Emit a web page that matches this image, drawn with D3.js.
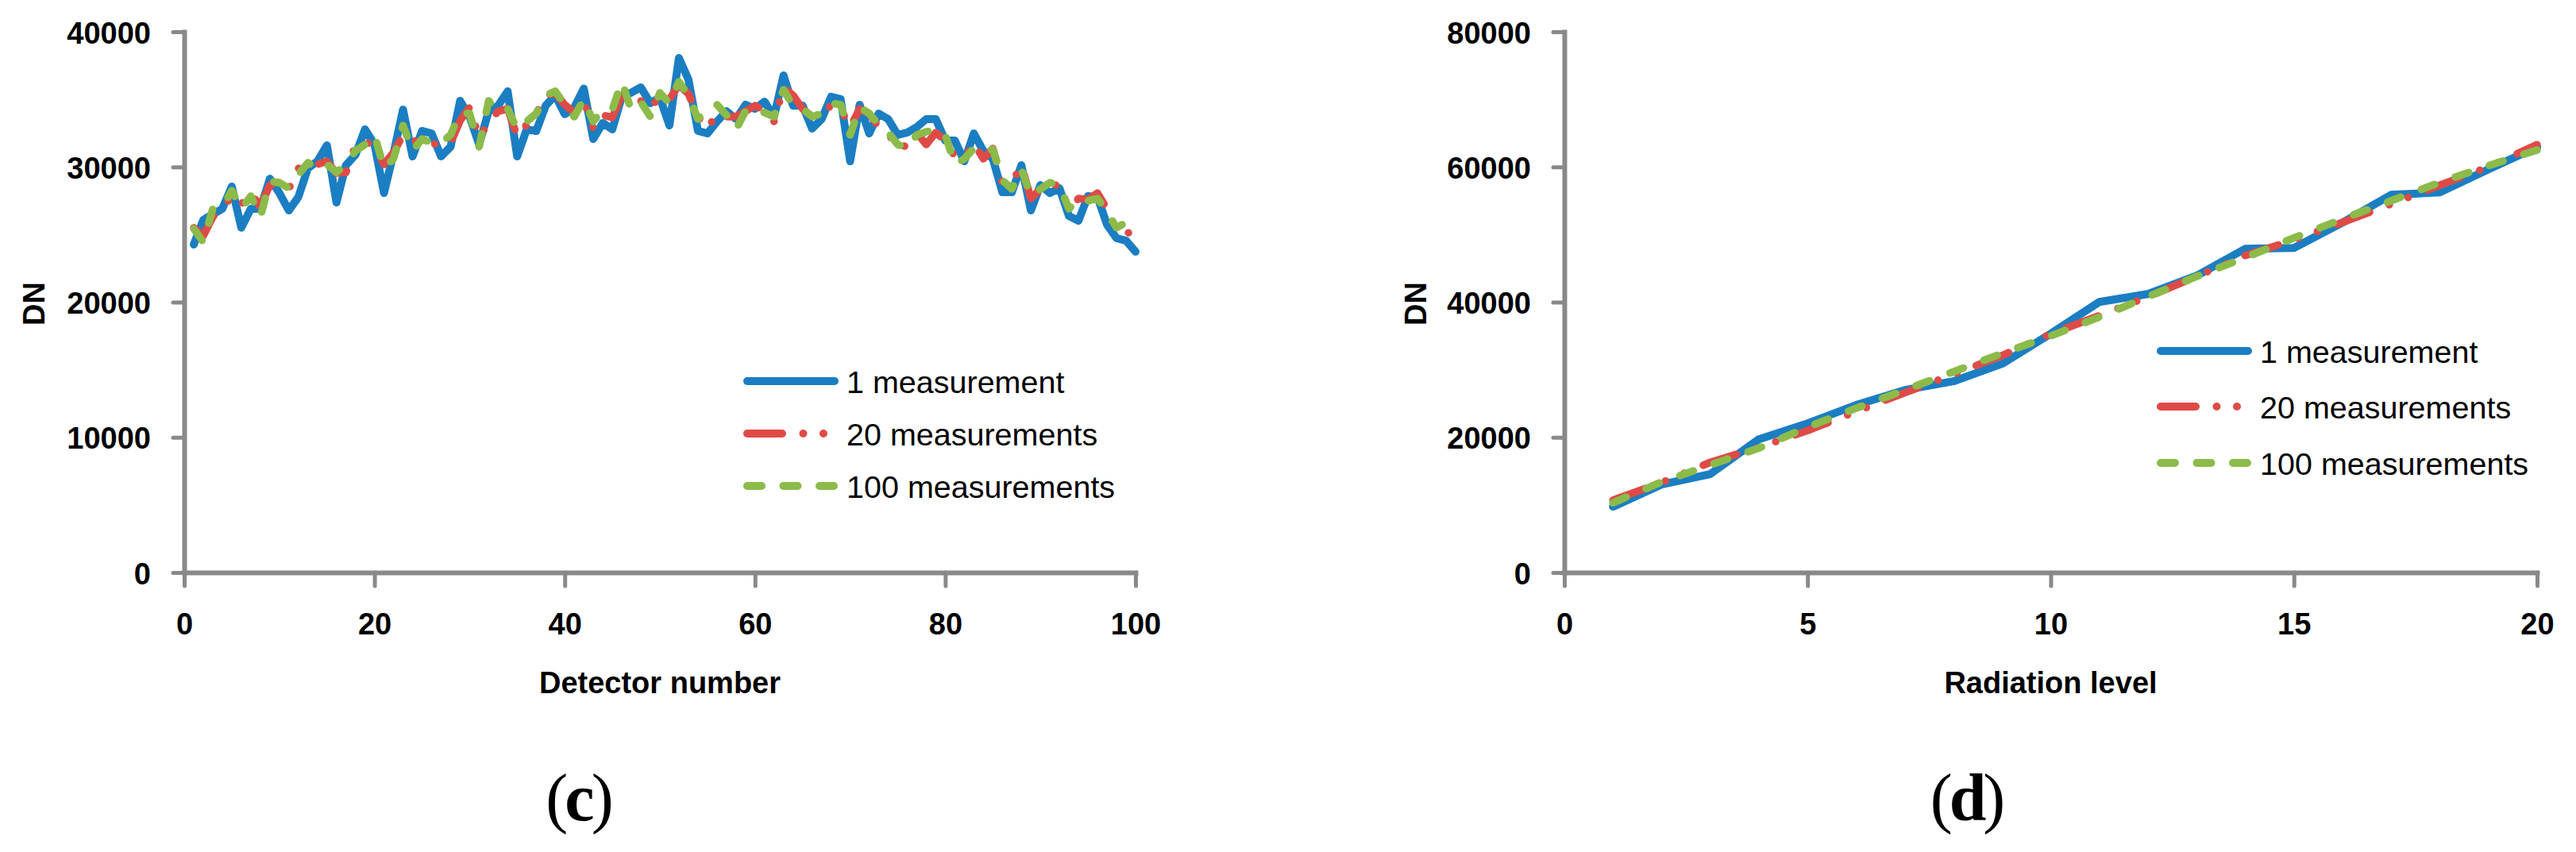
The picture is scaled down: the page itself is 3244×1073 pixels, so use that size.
<!DOCTYPE html>
<html>
<head>
<meta charset="utf-8">
<script src="https://cdn.jsdelivr.net/npm/d3@7"></script>
<style>
  html, body { margin: 0; padding: 0; background: #fff; }
  svg { display: block; }
  text { font-family: "Liberation Sans", Arial, sans-serif; fill: #000; }
</style>
</head>
<body>
<svg id="chart" width="3244" height="1073"></svg>
<script>
// ---------------- DATA ----------------
// Panel (c): DN per detector
const detectors = d3.range(1, 101);
const c_one = [24260,26080,26500,26900,28550,25500,26900,26900,29130,28070,
  26780,27780,29900,30420,31600,27370,30130,30900,32780,31660,
  28070,31010,34240,30780,32660,32480,30780,31490,34890,33720,
  31660,34120,34540,35600,30780,32780,32660,34540,35300,33900,
  34400,35800,32070,33250,32780,35200,35500,35890,34720,35130,
  33070,38060,36480,32660,32480,33360,34120,33540,34600,34300,
  34830,33720,36770,34540,34540,32840,33540,35190,35010,30420,
  34600,32480,33950,33540,32370,32540,32950,33540,33540,31960,
  31960,30420,32480,31190,30600,28130,28130,30130,26780,28660,
  28070,28430,26370,26020,27840,27780,25730,24730,24550,23730];
const c_twenty = [25500,24900,26300,26900,27840,27250,28070,27080,28660,28840,
  28370,29900,30010,30190,30420,29540,29600,31600,31900,31490,
  30190,31070,32370,31900,31960,31660,31780,31780,33420,34420,
  32190,33250,34120,34300,32250,33130,33950,35300,35480,34600,
  34010,34890,32840,33830,33660,35300,34540,34890,34300,35300,
  35010,36070,35420,33720,32840,33950,33720,33720,34120,34540,
  34120,33360,35890,35300,34300,33720,33950,34540,34300,32950,
  34300,33950,32950,32480,31370,31600,32540,31660,32540,31960,
  30780,30720,31780,30600,31370,28840,28840,30130,27660,28370,
  28840,28540,26900,27660,27600,28070,26900,25320,25140,25100];
const c_hundred = [25430,24440,26900,27000,28250,26900,27840,26300,28950,28840,
  28430,29430,30310,29840,30190,29600,30190,31190,31660,32370,
  29900,30600,33070,31190,32070,31780,31780,32370,34010,33950,
  31490,34890,34120,34300,32780,33360,33950,35300,35600,34600,
  33720,35010,33360,34240,34240,36300,34200,34800,33720,35480,
  34720,36300,35300,33540,34300,34600,33830,32780,34120,34420,
  34010,33720,35710,34540,34300,33720,33950,34720,34600,32370,
  34420,33950,33130,32540,31660,31370,32370,32600,32780,32370,
  30190,30600,31370,31070,31310,29020,28370,29840,27840,28370,
  28840,28660,26900,27660,27500,27660,26670,25500,25900,25020];

// Panel (d): DN per radiation level
const levels = d3.range(1, 21);
const d_one = [9740,13030,14560,19720,22070,24770,27000,28290,30880,35340,
  40030,41200,43900,47900,48020,51770,55880,56240,59640,62930];
const d_twenty = [10700,13300,16300,18500,21000,23800,26600,29300,32100,35300,
  38000,40800,43800,46900,49200,51800,54500,57300,60000,63300];
const d_hundred = [10300,13400,15900,18400,21500,24300,27000,29700,32400,35000,
  37800,40800,43800,46600,49500,52300,55000,57700,60200,62500];

const seriesNames = ["1 measurement", "20 measurements", "100 measurements"];
const c_xTicks = [0, 20, 40, 60, 80, 100];
const c_yTicks = [0, 10000, 20000, 30000, 40000];
const d_xTicks = [0, 5, 10, 15, 20];
const d_yTicks = [0, 20000, 40000, 60000, 80000];

// ---------------- STYLE ----------------
const styles = [
  { color: "#1B7EC2", width: 10, dash: null },
  { color: "#DE4B47", width: 9.5, dash: "44 26.5 0 25.5 0 26" },
  { color: "#8CBB4A", width: 9.5, dash: "18 27.5" }
];
const axisColor = "#898989";

const svg = d3.select("#chart");

function panel(cfg) {
  const x = d3.scaleLinear().domain(cfg.xDomain).range([cfg.left, cfg.right]);
  const y = d3.scaleLinear().domain(cfg.yDomain).range([cfg.bottom, cfg.top]);
  const g = svg.append("g");

  // axes
  const yAxis = g.append("g").attr("transform", `translate(${cfg.left},0)`)
    .call(d3.axisLeft(y).tickValues(cfg.yTicks).tickSize(14).tickSizeOuter(0).tickFormat(d3.format("d")));
  const xAxis = g.append("g").attr("transform", `translate(0,${cfg.bottom})`)
    .call(d3.axisBottom(x).tickValues(cfg.xTicks).tickSize(17).tickSizeOuter(0).tickFormat(d3.format("d")));

  [yAxis, xAxis].forEach(a => {
    a.select(".domain").attr("stroke", axisColor).attr("stroke-width", 6).attr("stroke-linecap", "square");
    a.selectAll(".tick line").attr("stroke", axisColor).attr("stroke-width", 5).attr("stroke-linecap", "round");
    a.selectAll(".tick text").attr("font-family", "Liberation Sans, Arial, sans-serif")
      .attr("font-size", 38).attr("font-weight", "bold").attr("fill", "#000");
  });
  yAxis.selectAll(".tick text").attr("x", -42).attr("dy", null).attr("y", 14);
  xAxis.selectAll(".tick text").attr("y", 78).attr("dy", null);

  // lines
  const line = d3.line().x(d => x(d[0])).y(d => y(d[1])).curve(d3.curveLinear);
  cfg.series.forEach((vals, i) => {
    const s = styles[i];
    g.append("path")
      .datum(cfg.xs.map((xv, k) => [xv, vals[k]]))
      .attr("d", line)
      .attr("fill", "none")
      .attr("stroke", s.color)
      .attr("stroke-width", s.width)
      .attr("stroke-linejoin", "round")
      .attr("stroke-linecap", "round")
      .attr("stroke-dasharray", s.dash);
  });

  // axis titles
  g.append("text").attr("x", (cfg.left + cfg.right) / 2).attr("y", 873)
    .attr("text-anchor", "middle").attr("font-size", 38).attr("font-weight", "bold")
    .text(cfg.xTitle);
  g.append("text")
    .attr("transform", `translate(${cfg.dnX},${(cfg.top + cfg.bottom) / 2 + 2}) rotate(-90)`)
    .attr("text-anchor", "middle").attr("font-size", 38).attr("font-weight", "bold")
    .text("DN");

  // legend
  seriesNames.forEach((name, i) => {
    const s = styles[i];
    const ly = cfg.legY[i];
    g.append("path")
      .attr("d", `M${cfg.legX + 5},${ly}H${cfg.legX + 115}`)
      .attr("stroke", s.color).attr("stroke-width", 10)
      .attr("stroke-linecap", "round").attr("fill", "none")
      .attr("stroke-dasharray", s.dash);
    g.append("text").attr("x", cfg.legX + 130).attr("y", ly + 15)
      .attr("font-size", 39.5).text(name);
  });

  // panel label
  const lab = g.append("text").attr("x", cfg.labelX).attr("y", 1033)
    .attr("text-anchor", "middle").attr("font-size", 84).attr("letter-spacing", -4)
    .style("font-family", "Liberation Serif, Times New Roman, serif");
  lab.append("tspan").text("(");
  lab.append("tspan").attr("font-weight", "bold").text(cfg.label);
  lab.append("tspan").text(")");
}

panel({
  xDomain: [0, 100], yDomain: [0, 40000],
  left: 232, right: 1430, top: 40, bottom: 721,
  xTicks: c_xTicks, yTicks: c_yTicks,
  xs: detectors, series: [c_one, c_twenty, c_hundred],
  xTitle: "Detector number", dnX: 56,
  legX: 936, legY: [480, 546, 612],
  label: "c", labelX: 728
});

panel({
  xDomain: [0, 20], yDomain: [0, 80000],
  left: 1970, right: 3195, top: 40, bottom: 721,
  xTicks: d_xTicks, yTicks: d_yTicks,
  xs: levels, series: [d_one, d_twenty, d_hundred],
  xTitle: "Radiation level", dnX: 1796,
  legX: 2716, legY: [442, 512, 583],
  label: "d", labelX: 2476
});
</script>
</body>
</html>
